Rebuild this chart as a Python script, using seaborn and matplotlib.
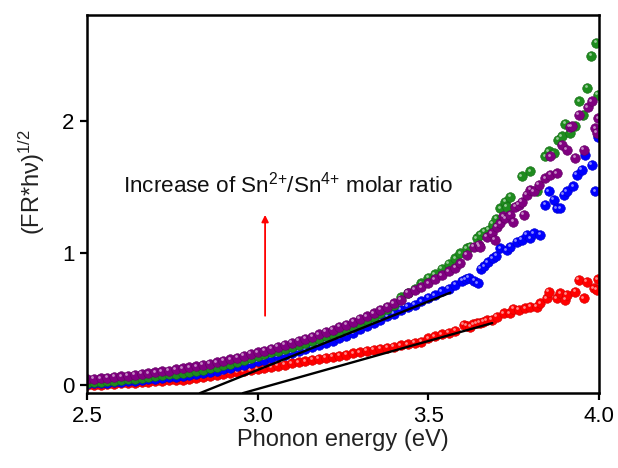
import matplotlib
matplotlib.use("Agg")
import matplotlib.pyplot as plt
import matplotlib.transforms as mtransforms
import numpy as np
import pandas as pd
import seaborn as sns

# shared energy grid for the dense low-energy part of all four curves
energy_grid = [
    2.50, 2.52, 2.54, 2.56, 2.58, 2.60, 2.62, 2.64, 2.66, 2.68,
    2.70, 2.72, 2.74, 2.76, 2.78, 2.80, 2.82, 2.84, 2.86, 2.88,
    2.90, 2.92, 2.94, 2.96, 2.98, 3.00, 3.02, 3.04, 3.06, 3.08,
    3.10, 3.12, 3.14, 3.16, 3.18, 3.20, 3.22, 3.24, 3.26, 3.28,
    3.30, 3.32, 3.34, 3.36, 3.38, 3.40, 3.42, 3.44, 3.46, 3.48,
    3.50, 3.52, 3.54, 3.56, 3.58,
]

red_dense = [
    0.000, 0.002, 0.004, 0.007, 0.010, 0.014, 0.017, 0.020, 0.023, 0.027,
    0.031, 0.034, 0.037, 0.040, 0.043, 0.047, 0.053, 0.060, 0.068, 0.075,
    0.083, 0.090, 0.098, 0.105, 0.112, 0.120, 0.128, 0.136, 0.145, 0.155,
    0.165, 0.173, 0.182, 0.190, 0.198, 0.207, 0.215, 0.223, 0.232, 0.241,
    0.250, 0.258, 0.266, 0.275, 0.283, 0.292, 0.302, 0.310, 0.320, 0.330,
    0.355, 0.370, 0.385, 0.395, 0.410,
]
blue_dense = [
    0.012, 0.014, 0.017, 0.020, 0.023, 0.027, 0.031, 0.035, 0.039, 0.044,
    0.050, 0.055, 0.060, 0.065, 0.070, 0.076, 0.083, 0.091, 0.100, 0.110,
    0.120, 0.131, 0.142, 0.154, 0.167, 0.180, 0.192, 0.205, 0.218, 0.231,
    0.245, 0.258, 0.272, 0.287, 0.303, 0.320, 0.337, 0.355, 0.373, 0.392,
    0.425, 0.450, 0.470, 0.490, 0.520, 0.540, 0.570, 0.595, 0.610, 0.635,
    0.660, 0.680, 0.710, 0.730, 0.760,
]
green_dense = [
    0.020, 0.023, 0.027, 0.031, 0.035, 0.040, 0.045, 0.050, 0.056, 0.062,
    0.070, 0.076, 0.082, 0.088, 0.094, 0.100, 0.108, 0.117, 0.127, 0.138,
    0.150, 0.163, 0.176, 0.190, 0.205, 0.220, 0.234, 0.248, 0.262, 0.276,
    0.290, 0.305, 0.320, 0.337, 0.353, 0.370, 0.387, 0.404, 0.422, 0.441,
    0.465, 0.490, 0.515, 0.545, 0.575, 0.610, 0.665, 0.700, 0.730, 0.770,
    0.810, 0.840, 0.880, 0.920, 0.960,
]
purple_dense = [
    0.045, 0.048, 0.052, 0.057, 0.062, 0.068, 0.073, 0.079, 0.085, 0.091,
    0.098, 0.105, 0.111, 0.119, 0.127, 0.135, 0.144, 0.153, 0.163, 0.174,
    0.185, 0.197, 0.209, 0.222, 0.236, 0.250, 0.262, 0.276, 0.292, 0.305,
    0.320, 0.334, 0.351, 0.368, 0.386, 0.405, 0.421, 0.440, 0.458, 0.478,
    0.500, 0.520, 0.545, 0.568, 0.592, 0.620, 0.645, 0.700, 0.720, 0.740,
    0.770, 0.800, 0.830, 0.860, 0.890,
]

# scattered high-energy tails
red_tail_x = [3.604, 3.613, 3.623, 3.632, 3.643, 3.652, 3.662, 3.672, 3.687, 3.701,
              3.721, 3.740, 3.750, 3.765, 3.785, 3.799, 3.819, 3.829, 3.848, 3.853,
              3.877, 3.887, 3.902, 3.907, 3.931, 3.941, 3.956, 3.965, 3.985, 3.995, 3.998]
red_tail_y = [0.455, 0.450, 0.442, 0.460, 0.467, 0.470, 0.480, 0.490, 0.493, 0.518,
              0.543, 0.543, 0.580, 0.568, 0.581, 0.594, 0.594, 0.619, 0.657, 0.707,
              0.657, 0.695, 0.644, 0.682, 0.707, 0.796, 0.657, 0.783, 0.733, 0.720, 0.800]

blue_tail_x = [3.600, 3.610, 3.620, 3.635, 3.645, 3.655, 3.665, 3.675, 3.690, 3.700,
               3.711, 3.730, 3.741, 3.760, 3.775, 3.789, 3.799, 3.809, 3.829, 3.843,
               3.853, 3.868, 3.877, 3.887, 3.897, 3.907, 3.926, 3.936, 3.951, 3.961,
               3.980, 3.990, 3.998]
blue_tail_y = [0.790, 0.800, 0.810, 0.790, 0.770, 0.880, 0.900, 0.930, 0.960, 0.980,
               1.036, 1.020, 1.048, 1.086, 1.099, 1.137, 1.112, 1.149, 1.137, 1.364,
               1.465, 1.402, 1.339, 1.339, 1.440, 1.465, 1.503, 1.591, 1.629, 1.743,
               1.667, 1.465, 1.880]

green_tail_x = [3.594, 3.613, 3.623, 3.643, 3.653, 3.665, 3.677, 3.690, 3.700, 3.711,
                3.726, 3.731, 3.741, 3.775, 3.799, 3.819, 3.843, 3.853, 3.868, 3.882,
                3.892, 3.902, 3.917, 3.931, 3.943, 3.955, 3.967, 3.978, 3.993, 3.998]
green_tail_y = [0.998, 1.036, 1.048, 1.112, 1.137, 1.160, 1.175, 1.220, 1.260, 1.339,
                1.389, 1.351, 1.427, 1.579, 1.617, 1.465, 1.730, 1.768, 1.755, 1.856,
                1.882, 1.978, 1.907, 1.962, 2.146, 2.045, 2.247, 2.492, 2.588, 2.197]

purple_tail_x = [3.594, 3.613, 3.633, 3.648, 3.652, 3.672, 3.687, 3.696, 3.702, 3.711,
                 3.720, 3.726, 3.741, 3.750, 3.755, 3.765, 3.775, 3.780, 3.789, 3.799,
                 3.809, 3.824, 3.843, 3.858, 3.858, 3.877, 3.892, 3.907, 3.916, 3.921,
                 3.931, 3.941, 3.956, 3.968, 3.980, 3.990, 3.995, 3.999]
purple_tail_y = [0.922, 0.985, 1.048, 1.061, 1.048, 1.124, 1.149, 1.099, 1.200, 1.225,
                 1.276, 1.263, 1.288, 1.238, 1.351, 1.364, 1.389, 1.290, 1.440, 1.478,
                 1.465, 1.516, 1.566, 1.591, 1.730, 1.604, 1.819, 1.781, 1.952, 1.957,
                 1.718, 2.045, 1.781, 2.103, 2.146, 1.944, 1.907, 2.020]

# tangent (Tauc) lines
fit1_x = [2.831, 3.565]
fit1_y = [-0.060, 0.700]
fit2_x = [2.957, 3.688]
fit2_y = [-0.060, 0.470]

arrow_x = 3.022
arrow_y = [0.525, 1.288]

series = [
    ("red", red_dense, red_tail_x, red_tail_y),
    ("blue", blue_dense, blue_tail_x, blue_tail_y),
    ("green", green_dense, green_tail_x, green_tail_y),
    ("purple", purple_dense, purple_tail_x, purple_tail_y),
]

palette = {"red": "#ff0000", "blue": "#0000ff", "green": "#1e8c1e", "purple": "#800080"}
edge = {"red": "#d00000", "blue": "#0000c8", "green": "#146814", "purple": "#600060"}

sns.set_style("ticks")
plt.rcParams["font.family"] = ["Liberation Sans", "DejaVu Sans"]
plt.rcParams["mathtext.fontset"] = "custom"
plt.rcParams["mathtext.rm"] = "Liberation Sans"
plt.rcParams["mathtext.it"] = "Liberation Sans:italic"
plt.rcParams["mathtext.bf"] = "Liberation Sans:bold"

fig = plt.figure(figsize=(6.18, 4.68), dpi=100)
ax = fig.add_axes([0.1408, 0.160, 0.828, 0.808])

# small white glint on each ball, shifted up-left
glint = ax.transData + mtransforms.ScaledTranslation(-1.6 / 100, 1.6 / 100, fig.dpi_scale_trans)

for name, dense, tx, ty in series:
    d = pd.DataFrame({"E": list(energy_grid) + tx, "F": list(dense) + ty})
    sns.scatterplot(data=d, x="E", y="F", color=palette[name], s=48,
                    edgecolor=edge[name], linewidth=0.4, ax=ax, zorder=2)
    ax.scatter(d["E"], d["F"], s=4, color="white", alpha=0.55, linewidth=0,
               transform=glint, zorder=2)

sns.lineplot(x=fit1_x, y=fit1_y, color="black", lw=1.7, ax=ax, zorder=3)
sns.lineplot(x=fit2_x, y=fit2_y, color="black", lw=1.7, ax=ax, zorder=3)

ax.annotate("", xy=(arrow_x, arrow_y[1]), xytext=(arrow_x, arrow_y[0]),
            arrowprops=dict(arrowstyle="-|>", color="red", lw=1.3, mutation_scale=10,
                            shrinkA=0, shrinkB=0))
ax.text(2.606, 1.46, r"Increase of Sn$^{2{+}}$/Sn$^{4{+}}$ molar ratio", fontsize=16.2,
        ha="left", va="baseline", color="#111111")

ax.set_xlim(2.5, 4.0)
ax.set_ylim(-0.06, 2.80)
ax.set_xticks([2.5, 3.0, 3.5, 4.0])
ax.set_xticklabels(["2.5", "3.0", "3.5", "4.0"])
ax.set_yticks([0, 1, 2])
ax.set_yticklabels(["0", "1", "2"])
ax.tick_params(axis="both", direction="out", length=5, width=1.6, labelsize=16,
               colors="black", pad=4)
for sp in ax.spines.values():
    sp.set_linewidth(1.8)
    sp.set_color("black")

ax.set_xlabel("Phonon energy (eV)", fontsize=17, labelpad=2, color="#222222")
ax.set_ylabel(r"(FR*h$\mathregular{\nu}$)$^{1/2}$", fontsize=17, color="#222222")
ax.yaxis.set_label_coords(-0.078, 0.558)

fig.savefig("out.png", dpi=100)
